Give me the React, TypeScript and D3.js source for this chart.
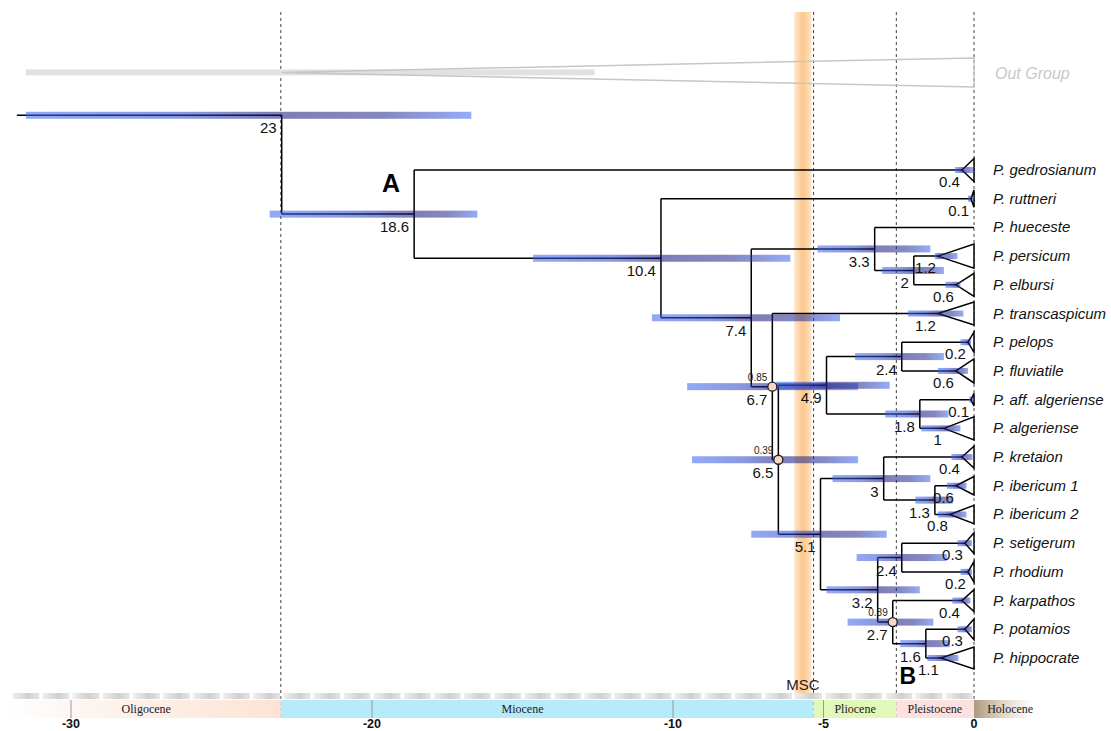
import React from 'react';
import * as d3 from 'd3';

// tips, top to bottom
const tipNames = ['P. gedrosianum', 'P. ruttneri', 'P. hueceste', 'P. persicum', 'P. elbursi', 'P. transcaspicum', 'P. pelops', 'P. fluviatile', 'P. aff. algeriense', 'P. algeriense', 'P. kretaion', 'P. ibericum 1', 'P. ibericum 2', 'P. setigerum', 'P. rhodium', 'P. karpathos', 'P. potamios', 'P. hippocrate'];
const tipCrownAges = [0.4, 0.1, 0, 1.2, 0.6, 1.2, 0.2, 0.6, 0.1, 1, 0.4, 0.6, 0.8, 0.3, 0.2, 0.4, 0.3, 1.1];
const tipCladeSpread = [0.4, 0.3, 0, 0.42, 0.4, 0.4, 0.35, 0.42, 0.22, 0.4, 0.38, 0.32, 0.32, 0.36, 0.36, 0.38, 0.36, 0.38];
const tipHpdOld = [0.63, 0.2, 0, 1.3, 0.95, 2.2, 0.45, 1.2, 0.15, 1.75, 0.75, 0.9, 1.2, 0.55, 0.45, 0.72, 0.55, 1.55];
const tipHpdYoung = [0.03, 0, 0, 0.55, 0.45, 0.35, 0.1, 0.2, 0.03, 0.45, 0.05, 0.25, 0.25, 0.07, 0.07, 0.12, 0.07, 0.52];

// internal nodes
const nodeIds = ['n23', 'nA', 'n104', 'n74', 'n33', 'n2', 'n67', 'n65', 'n49', 'n24a', 'n18', 'n51', 'n3', 'n13', 'n32', 'n24b', 'n27', 'n16'];
const nodeAges = [23, 18.6, 10.4, 7.4, 3.3, 2, 6.7, 6.5, 4.9, 2.4, 1.8, 5.1, 3, 1.3, 3.2, 2.4, 2.7, 1.6];
const nodeChildren = [['out', 'nA'], ['t0', 'n104'], ['t1', 'n74'], ['n33', 'n67'], ['t2', 'n2'], ['t3', 't4'], ['t5', 'n65'], ['n49', 'n51'], ['n24a', 'n18'], ['t6', 't7'], ['t8', 't9'], ['n3', 'n32'], ['t10', 'n13'], ['t11', 't12'], ['n24b', 'n27'], ['t13', 't14'], ['t15', 'n16'], ['t16', 't17']];
const nodeHpdOld = [31.5, 23.4, 14.65, 10.7, 5.2, 3.05, 9.53, 9.37, 6.58, 3.95, 2.95, 7.4, 4.7, 1.95, 4.9, 3.9, 4.2, 2.45];
const nodeHpdYoung = [16.7, 16.5, 6.1, 4.45, 1.45, 1.0, 3.85, 3.85, 2.8, 1.0, 0.85, 2.9, 1.45, 0.7, 1.8, 0.9, 1.35, 0.8];
const nodePosterior = [null, null, null, null, null, null, 0.85, 0.39, null, null, null, null, null, null, null, null, 0.89, null];

const rootBranchAge = 31.8;
const outgroupName = 'Out Group';
const outgroupHpd = [31.5, 12.6];

// geologic timescale
const epochNames = ['Oligocene', 'Miocene', 'Pliocene', 'Pleistocene', 'Holocene'];
const epochStarts = [-32.1, -23.03, -5.33, -2.58, 0];
const epochEnds = [-23.03, -5.33, -2.58, 0, 1.9];
const epochLabelAges = [-27.5, -15, -3.95, -1.3, 1.2];
const axisTicks = [-30, -20, -10, -5, 0];
const boundaryAges = [-23.03, -5.33, -2.58, 0];
const mscRange = [-5.97, -5.4];

const sans = 'Liberation Sans, Arial, Helvetica, sans-serif';

export default function App() {
  const x = d3.scaleLinear().domain([-30, 0]).range([71, 974]);
  const y = d3.scaleLinear().domain([0, 17]).range([170, 658]);

  // layout rows: tips by order, internal nodes at midpoint of children
  const rowOf: Record<string, number> = { out: -5.35 };
  tipNames.forEach((_, i) => { rowOf['t' + i] = i; });
  const rowFor = (id: string): number => {
    if (id in rowOf) return rowOf[id];
    const k = nodeIds.indexOf(id);
    const r = d3.mean(nodeChildren[k].map(rowFor)) as number;
    rowOf[id] = r;
    return r;
  };
  nodeIds.forEach(rowFor);

  const xOf = (id: string) => {
    if (id[0] === 't') return x(-tipCrownAges[+id.slice(1)]);
    return x(-nodeAges[nodeIds.indexOf(id)]);
  };

  const outRow = -3.4;
  const x0 = x(0);

  // branches
  const branches: string[] = [];
  nodeIds.forEach((id, k) => {
    const nx = x(-nodeAges[k]);
    const kids = nodeChildren[k].filter((c) => c !== 'out');
    const rows = kids.map((c) => rowOf[c]).concat([rowOf[id]]);
    branches.push(`M${nx},${y(d3.min(rows)!)}V${y(d3.max(rows)!)}`);
    kids.forEach((c) => branches.push(`M${nx},${y(rowOf[c])}H${xOf(c)}`));
  });
  branches.push(`M${x(-rootBranchAge)},${y(rowOf.n23)}H${x(-23)}`);
  branches.push(`M${x(-tipCrownAges[2])},${y(2)}H${x0}`);

  const bars = [
    ...nodeIds.map((id, k) => ({ id, row: rowOf[id], age: nodeAges[k], old: nodeHpdOld[k], young: nodeHpdYoung[k], h: 7 })),
    ...tipNames.map((_, i) => ({ id: 't' + i, row: i, age: tipCrownAges[i], old: tipHpdOld[i], young: tipHpdYoung[i], h: 6 })),
  ].filter((b) => b.old > b.young);

  return (
    <div style={{ position: 'absolute', left: 0, top: 0 }}>
      <svg width={1111} height={731} style={{ display: 'block', background: '#fff' }}>
        <defs>
          <linearGradient id="msc" x1="0" x2="1" y1="0" y2="0">
            <stop offset="0" stopColor="#fee6cb" />
            <stop offset="0.5" stopColor="#fcc78c" />
            <stop offset="1" stopColor="#fee3c4" />
          </linearGradient>
          <linearGradient id="seg" x1="0" x2="1" y1="0" y2="0">
            <stop offset="0" stopColor="#f0f0f0" />
            <stop offset="0.6" stopColor="#cfcfcf" />
            <stop offset="1" stopColor="#e6e6e6" />
          </linearGradient>
          <linearGradient id="oligo" x1="0" x2="1" y1="0" y2="0">
            <stop offset="0" stopColor="#ffffff" />
            <stop offset="0.25" stopColor="#fdf6f2" />
            <stop offset="1" stopColor="#fde3d5" />
          </linearGradient>
          <linearGradient id="holo" x1="0" x2="1" y1="0" y2="0">
            <stop offset="0" stopColor="#ad9a7c" />
            <stop offset="0.5" stopColor="#e0d6c8" />
            <stop offset="1" stopColor="#ffffff" />
          </linearGradient>
          {bars.map((b) => {
            const x1 = x(-b.old), x2 = x(-b.young);
            const o = Math.max(0, Math.min(1, (x(-b.age) - x1) / (x2 - x1)));
            return (
              <linearGradient key={b.id} id={'hpd-' + b.id} x1="0" x2="1" y1="0" y2="0">
                <stop offset="0" stopColor="#3a64f0" />
                <stop offset={o * 0.6} stopColor="#2a46c8" />
                <stop offset={o} stopColor="#141478" />
                <stop offset={o + (1 - o) * 0.55} stopColor="#22288e" />
                <stop offset="1" stopColor="#3f68f2" />
              </linearGradient>
            );
          })}
        </defs>

        {/* Messinian salinity crisis */}
        <rect x={x(mscRange[0])} y={12} width={x(mscRange[1]) - x(mscRange[0])} height={685} fill="url(#msc)" />

        {/* epoch boundaries */}
        {boundaryAges.map((a) => (
          <line key={a} x1={x(a)} x2={x(a)} y1={12} y2={719} stroke="#444" strokeWidth={1} strokeDasharray="3,3" />
        ))}

        {/* out group */}
        <rect x={x(-outgroupHpd[0])} y={y(outRow) - 3} width={x(-outgroupHpd[1]) - x(-outgroupHpd[0])} height={6} fill="#e1e1e1" />
        <path d={`M${x(-23)},${y(outRow)}L${x0},${y(outRow) - 14.5}V${y(outRow) + 14.5}Z`} fill="none" stroke="#c6c6c6" strokeWidth={1.5} />
        <text x={995} y={y(outRow) + 7} fontFamily={sans} fontStyle="italic" fontSize={16} fill="#c8c8c8">{outgroupName}</text>

        {/* branches */}
        <path d={branches.join('')} fill="none" stroke="#000" strokeWidth={1.5} />

        {/* collapsed clades */}
        {tipNames.map((_, i) => tipCrownAges[i] > 0 && (
          <path key={i} d={`M${x(-tipCrownAges[i])},${y(i)}L${x0},${y(i - tipCladeSpread[i])}V${y(i + tipCladeSpread[i])}Z`} fill="#fff" stroke="#000" strokeWidth={1.5} strokeLinejoin="miter" />
        ))}

        {/* 95% HPD bars */}
        {bars.map((b) => (
          <rect key={b.id} x={x(-b.old)} y={y(b.row) - b.h / 2} width={x(-b.young) - x(-b.old)} height={b.h} fill={`url(#hpd-${b.id})`} opacity={0.55} />
        ))}

        {/* posterior circles */}
        {nodeIds.map((id, k) => nodePosterior[k] != null && (
          <g key={id}>
            <circle cx={x(-nodeAges[k])} cy={y(rowOf[id])} r={4.5} fill="#f9d6cc" stroke="#222" strokeWidth={1.3} />
            <text x={x(-nodeAges[k]) - 5} y={y(rowOf[id]) - 6} textAnchor="end" fontFamily={sans} fontSize={10} fill="#222">{nodePosterior[k]}</text>
          </g>
        ))}

        {/* node ages */}
        {nodeIds.map((id, k) => (
          <text key={id} x={x(-nodeAges[k]) - 5} y={y(rowOf[id]) + 18} textAnchor="end" fontFamily={sans} fontSize={15} fill="#111">{nodeAges[k]}</text>
        ))}
        {tipNames.map((_, i) => tipCrownAges[i] > 0 && (
          <text key={i} x={x(-tipCrownAges[i]) - 2} y={y(i) + 17} textAnchor="end" fontFamily={sans} fontSize={15} fill="#111">{tipCrownAges[i]}</text>
        ))}

        {/* tip names */}
        {tipNames.map((n, i) => (
          <text key={n} x={993} y={y(i) + 5} fontFamily={sans} fontStyle="italic" fontSize={15} fill="#111">{n}</text>
        ))}

        {/* clade letters */}
        <text x={x(-18.6) - 23} y={y(rowOf.nA) - 22} textAnchor="middle" fontFamily={sans} fontWeight="900" fontSize={25}>A</text>
        <text x={x(-2.7) + 15} y={y(rowOf.n27) + 62} textAnchor="middle" fontFamily={sans} fontWeight="900" fontSize={23}>B</text>
        <text x={x(-5.68)} y={690} textAnchor="middle" fontFamily={sans} fontSize={15} fill="#222">MSC</text>

        {/* timescale: million-year segments */}
        {d3.range(-32, 0).map((a) => (
          <rect key={a} x={x(a) + 1.5} y={693} width={x(a + 1) - x(a) - 3} height={6} fill="url(#seg)" />
        ))}
        {/* epochs */}
        {epochNames.map((e, i) => (
          <rect key={e} x={x(epochStarts[i])} y={700} width={x(epochEnds[i]) - x(epochStarts[i])} height={18}
            fill={['url(#oligo)', '#b5ebfb', '#e1f8b9', '#fde1e1', 'url(#holo)'][i]} />
        ))}
        {axisTicks.filter((t) => t !== 0).map((t) => (
          <line key={t} x1={x(t)} x2={x(t)} y1={700} y2={718} stroke="#999" strokeWidth={1} />
        ))}
        {epochNames.map((e, i) => (
          <text key={e} x={x(epochLabelAges[i])} y={713} textAnchor="middle" fontFamily="Liberation Serif, Times New Roman, serif" fontSize={12} fill="#1a1a1a">{e}</text>
        ))}
        {axisTicks.map((t) => (
          <text key={t} x={x(t)} y={728} textAnchor="middle" fontFamily={sans} fontWeight="bold" fontSize={12.5} fill="#111">{t}</text>
        ))}
      </svg>
    </div>
  );
}
